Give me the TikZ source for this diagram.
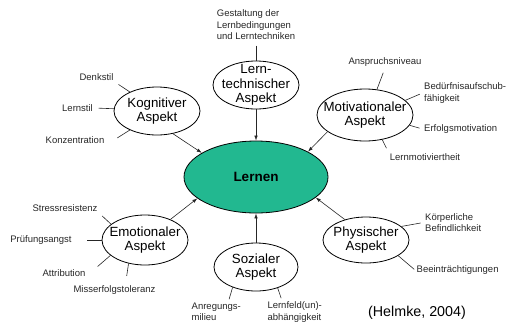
\documentclass[tikz,border=0pt]{standalone}
\usepackage{fontspec}
\setmainfont{Liberation Sans}
\usepackage{xcolor}
\usetikzlibrary{shapes.geometric,arrows.meta}
\definecolor{lerngruen}{RGB}{34,184,144}

\begin{document}
\begin{tikzpicture}[x=1pt,y=-1pt,
  asp/.style={draw,ellipse,inner sep=-10pt,align=center,line width=0.8pt,
              font=\fontsize{13.3}{14.5}\selectfont},
  core/.style={asp,fill=lerngruen,font=\fontsize{13.5}{15}\selectfont\bfseries},
  lbl/.style={inner sep=1.5pt,text=black!85,font=\fontsize{9.5}{11.5}\selectfont},
  arr/.style={-{Latex[length=5pt,width=3.5pt]},line width=0.6pt,draw=black!85},
  sp/.style={line width=0.6pt,draw=black!85,shorten <=4pt}
]
\useasboundingbox (0,0) rectangle (510,327);
% Mitte
\node[core,minimum width=144pt,minimum height=72pt] (lern) at (256,177) {Lernen};
% Aspekte
\node[asp,minimum width=86pt,minimum height=48pt] (lt)  at (256,85)  {Lern-\\technischer\\Aspekt};
\node[asp,minimum width=86pt,minimum height=48pt] (kog) at (157,111) {Kognitiver\\Aspekt};
\node[asp,minimum width=96pt,minimum height=52pt] (mot) at (365,115) {Motivationaler\\Aspekt};
\node[asp,minimum width=86pt,minimum height=50pt] (emo) at (145,240) {Emotionaler\\Aspekt};
\node[asp,minimum width=84pt,minimum height=48pt] (soz) at (256,267) {Sozialer\\Aspekt};
\node[asp,minimum width=86pt,minimum height=46pt] (phy) at (366,240) {Physischer\\Aspekt};
% Merkmale
\node[lbl,align=left] (gest) at (256,25) {Gestaltung der\\Lernbedingungen\\und Lerntechniken};
\node[lbl] (denk)  at (96.5,77)  {Denkstil};
\node[lbl] (lstil) at (77.5,108) {Lernstil};
\node[lbl] (konz)  at (75,140)   {Konzentration};
\node[lbl] (anspr) at (385,62)   {Anspruchsniveau};
\node[lbl,align=left,anchor=west] (beduerf) at (422.5,93) {Bedürfnisaufschub-\\fähigkeit};
\node[lbl,anchor=west] (erfolg) at (422.5,129) {Erfolgsmotivation};
\node[lbl] (lmot)   at (425,157)   {Lernmotiviertheit};
\node[lbl] (stress) at (65,208)    {Stressresistenz};
\node[lbl] (pruef)  at (41,240)    {Prüfungsangst};
\node[lbl] (attr)   at (64,273)    {Attribution};
\node[lbl] (miss)   at (114.5,290) {Misserfolgstoleranz};
\node[lbl,align=left,anchor=west] (anreg) at (190,312)   {Anregungs-\\milieu};
\node[lbl,align=left,anchor=west] (lfeld) at (265.8,312) {Lernfeld(un)-\\abhängigkeit};
\node[lbl,align=left,anchor=west] (koerp) at (423.5,222.5) {Körperliche\\Befindlichkeit};
\node[lbl,anchor=west] (beein) at (415,270) {Beeinträchtigungen};
\node[font=\fontsize{14.3}{16}\selectfont] (quelle) at (417,313) {(Helmke, 2004)};
% Pfeile
\draw[arr] (lt.south) -- (lern.north);
\draw[arr] (kog.305) -- (lern.156);
\draw[arr] (mot.204) -- (lern.26);
\draw[arr] (emo.39) -- (lern.200);
\draw[arr] (soz.north) -- (lern.south);
\draw[arr] (phy.136) -- (lern.341);
% Linien
\draw[sp] (gest.south) -- (lt.north);
\draw[sp] (denk.south east) -- (kog.145);
\draw[sp] (lstil.east) -- (kog.177);
\draw[sp] ([xshift=8pt]konz.east) -- (kog.215);
\draw[sp,shorten <=5pt] (anspr.south) -- (mot.65);
\draw[sp,shorten <=3pt] (beduerf.west) -- (mot.20);
\draw[sp,shorten <=3pt] (erfolg.west) -- (mot.347);
\draw[sp] (lmot.north west) -- (mot.305);
\draw[sp] (stress.south east) -- (emo.155);
\draw[sp,shorten <=14pt] (pruef.east) -- (emo.west);
\draw[sp,shorten <=2pt] ([xshift=9pt]attr.north east) -- (emo.204);
\draw[sp,shorten <=8pt] ([xshift=11pt]miss.north) -- (emo.235);
\draw[sp,shorten <=2pt] ([xshift=-14pt]anreg.north east) -- (soz.221);
\draw[sp,shorten <=2pt] ([xshift=16pt]lfeld.north west) -- (soz.316);
\draw[sp,shorten <=3pt] (koerp.west) -- (phy.21);
\draw[sp,shorten <=1pt] (beein.west) -- (phy.334);
\end{tikzpicture}
\end{document}
